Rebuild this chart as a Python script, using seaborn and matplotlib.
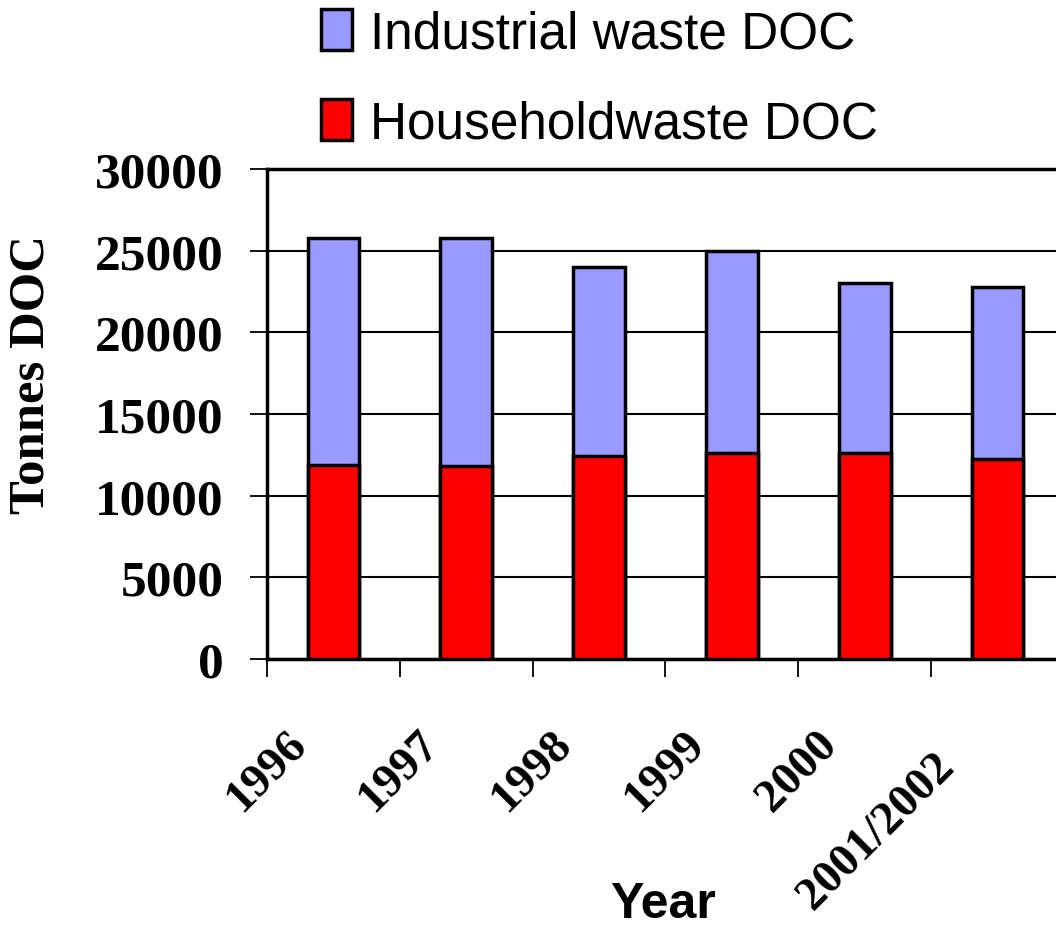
import numpy as np
import pandas as pd
import matplotlib
matplotlib.use("Agg")
import matplotlib.pyplot as plt
from matplotlib.patches import Patch
from matplotlib.transforms import ScaledTranslation
import seaborn as sns

# Dissolved organic carbon (DOC) landfilled, tonnes per year
years = ["1996", "1997", "1998", "1999", "2000", "2001/2002"]
household_doc = [11900, 11800, 12400, 12600, 12600, 12250]
industrial_doc = [13900, 14000, 11600, 12400, 10400, 10550]

series_names = ["Industrial waste DOC", "Householdwaste DOC"]
industrial_color = "#9999FF"
household_color = "#FF0000"

sns.set_style("white")
plt.rcParams["font.family"] = ["Liberation Serif", "DejaVu Serif"]
plt.rcParams["text.color"] = "black"
plt.rcParams["axes.labelcolor"] = "black"
plt.rcParams["xtick.color"] = "black"
plt.rcParams["ytick.color"] = "black"

df = pd.DataFrame({"Year": years,
                   "Household": household_doc,
                   "Industrial": industrial_doc})
df["Total"] = df["Household"] + df["Industrial"]

W, H = 1056, 928
fig = plt.figure(figsize=(W / 100, H / 100), dpi=100)
ax = fig.add_axes([267 / W, 1 - 660 / H, (W - 267) / W, (660 - 170) / H])

edge_lw = 2.5
bar_w = 0.39
# stacked bars: full total in the industrial colour, household drawn over it
sns.barplot(data=df, x="Year", y="Total", color=industrial_color,
            saturation=1, edgecolor="black", linewidth=edge_lw,
            width=bar_w, ax=ax, zorder=3)
sns.barplot(data=df, x="Year", y="Household", color=household_color,
            saturation=1, edgecolor="black", linewidth=edge_lw,
            width=bar_w, ax=ax, zorder=4)

ax.set_ylim(0, 30000)
ax.set_yticks(np.arange(0, 30001, 5000))
ax.set_xlim(-0.5, 5.44)
ax.set_xticks(np.arange(len(years)) - 0.5)
ax.set_xticklabels(years, rotation=45, ha="right", va="top",
                   rotation_mode="anchor", fontsize=34, fontweight="bold")
for lab in ax.get_yticklabels():
    lab.set_fontsize(37)
    lab.set_fontweight("bold")

ax.set_axisbelow(True)
ax.yaxis.grid(True, color="black", linewidth=1.5)
ax.xaxis.grid(False)

for side in ["top", "left", "bottom"]:
    ax.spines[side].set_visible(True)
    ax.spines[side].set_color("black")
    ax.spines[side].set_linewidth(2.5)
ax.spines["right"].set_visible(False)

ax.tick_params(axis="y", direction="out", length=12, width=1.3,
               pad=19, colors="black", left=True)
ax.tick_params(axis="x", direction="out", length=13, width=1.3,
               pad=33, colors="black", bottom=True)

# shift the rotated year labels so they sit beside their tick marks
for i, lab in enumerate(ax.get_xticklabels()):
    dx, dy = 13 / 72, 0
    if i == len(years) - 1:
        dx, dy = 1 / 72, -16 / 72
    lab.set_transform(lab.get_transform() +
                      ScaledTranslation(dx, dy, fig.dpi_scale_trans))

ax.set_ylabel("Tonnes DOC", fontsize=36.5, fontweight="bold",
              rotation=90, ha="center", va="center")
ax.yaxis.set_label_coords(-0.298, 0.582)

ax.set_xlabel("Year", fontsize=36, fontweight="bold",
              family=["Liberation Sans", "DejaVu Sans"], va="center")
ax.xaxis.set_label_coords(0.502, -0.5)

handles = [Patch(facecolor=industrial_color, edgecolor="black",
                 linewidth=edge_lw, label=series_names[0]),
           Patch(facecolor=household_color, edgecolor="black",
                 linewidth=edge_lw, label=series_names[1])]
fig.legend(handles=handles, loc="upper left",
           bbox_to_anchor=(321 / W, 1 - 10 / H), frameon=False,
           prop={"family": ["Liberation Sans", "DejaVu Sans"], "size": 37},
           handlelength=0.6, handleheight=0.85, handletextpad=0.35,
           labelspacing=0.8, borderpad=0, borderaxespad=0)

fig.savefig("out.png", dpi=100)
